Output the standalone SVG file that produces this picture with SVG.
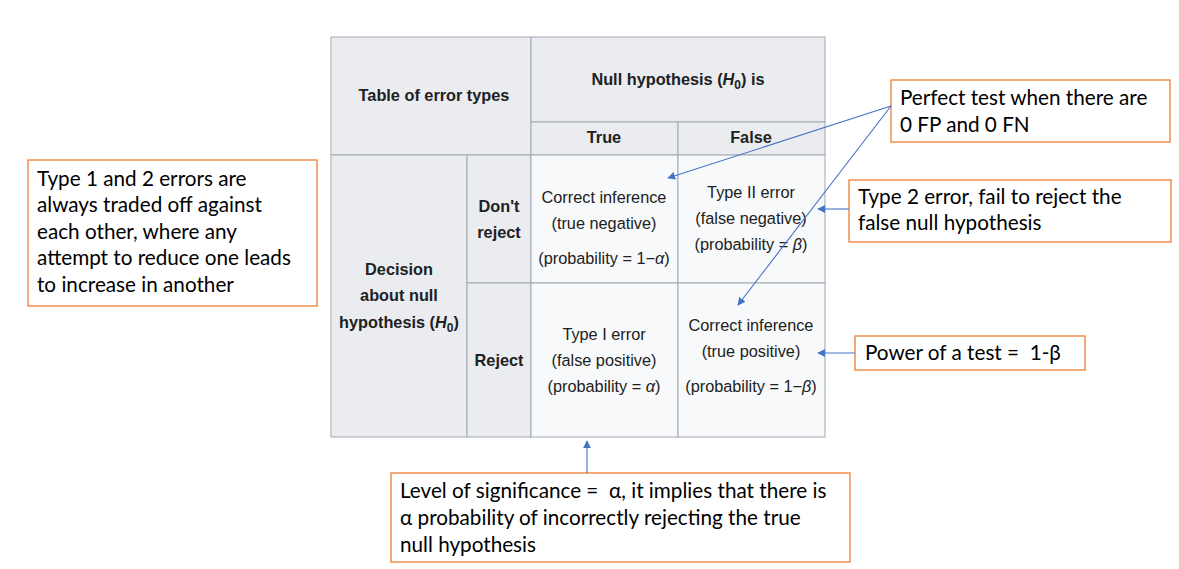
<svg xmlns="http://www.w3.org/2000/svg" width="1179" height="569" viewBox="0 0 1179 569">
<style>
.hd{fill:#eaecf0;stroke:#a2a9b1;stroke-width:1}
.dc{fill:#f8f9fa;stroke:#a2a9b1;stroke-width:1}
.tb{font-family:"Liberation Sans",Arial,sans-serif;font-size:16.3px;fill:#202122;text-anchor:middle}
.b{font-weight:bold}
.box{fill:#ffffff;stroke:#ED7D31;stroke-width:1.3}
.ct{font-family:Lato,"Open Sans",sans-serif;font-size:20.7px;fill:#000000;white-space:pre}
.cn{stroke:#4472C4;stroke-width:1.1;fill:none;marker-end:url(#ah)}
</style>
<defs>
<marker id="ah" viewBox="0 0 10 10" refX="9" refY="5" markerWidth="8" markerHeight="8" markerUnits="userSpaceOnUse" orient="auto">
<path d="M0,0 L10,5 L0,10 z" fill="#4472C4"/>
</marker>
</defs>
<rect width="1179" height="569" fill="#ffffff"/>
<g id="table">
<rect class="hd" x="331" y="37" width="200" height="118"/>
<rect class="hd" x="531" y="37" width="294" height="85"/>
<rect class="hd" x="531" y="122" width="147" height="33"/>
<rect class="hd" x="678" y="122" width="147" height="33"/>
<rect class="hd" x="331" y="155" width="136" height="282"/>
<rect class="hd" x="467" y="155" width="64" height="128"/>
<rect class="hd" x="467" y="283" width="64" height="154"/>
<rect class="dc" x="531" y="155" width="147" height="128"/>
<rect class="dc" x="678" y="155" width="147" height="128"/>
<rect class="dc" x="531" y="283" width="147" height="154"/>
<rect class="dc" x="678" y="283" width="147" height="154"/>
<text class="tb b" x="434" y="101">Table of error types</text>
<text class="tb b" x="678" y="85">Null hypothesis (<tspan font-style="italic">H</tspan><tspan font-size="12" dy="4">0</tspan><tspan dy="-4">) is</tspan></text>
<text class="tb b" x="604" y="143">True</text>
<text class="tb b" x="751" y="143">False</text>
<text class="tb b" x="499" y="212">Don't</text>
<text class="tb b" x="499" y="238">reject</text>
<text class="tb b" x="399" y="275">Decision</text>
<text class="tb b" x="399" y="301">about null</text>
<text class="tb b" x="399" y="328">hypothesis (<tspan font-style="italic">H</tspan><tspan font-size="12" dy="4">0</tspan><tspan dy="-4">)</tspan></text>
<text class="tb b" x="499" y="366">Reject</text>
<text class="tb" x="604" y="203">Correct inference</text>
<text class="tb" x="604" y="229">(true negative)</text>
<text class="tb" x="604" y="264">(probability = 1−<tspan font-style="italic">α</tspan>)</text>
<text class="tb" x="751" y="198">Type II error</text>
<text class="tb" x="751" y="224">(false negative)</text>
<text class="tb" x="751" y="250">(probability = <tspan font-style="italic">β</tspan>)</text>
<text class="tb" x="604" y="340">Type I error</text>
<text class="tb" x="604" y="366">(false positive)</text>
<text class="tb" x="604" y="392">(probability = <tspan font-style="italic">α</tspan>)</text>
<text class="tb" x="751" y="331">Correct inference</text>
<text class="tb" x="751" y="357">(true positive)</text>
<text class="tb" x="751" y="392">(probability = 1−<tspan font-style="italic">β</tspan>)</text>
</g>
<g id="note-tradeoff">
<rect class="box" x="28" y="160" width="289" height="146"/>
<text class="ct" x="37" y="186">Type 1 and 2 errors are</text>
<text class="ct" x="37" y="212">always traded off against</text>
<text class="ct" x="37" y="239">each other, where any</text>
<text class="ct" x="37" y="265">attempt to reduce one leads</text>
<text class="ct" x="37" y="292">to increase in another</text>
</g>
<g id="note-perfect">
<rect class="box" x="891" y="80" width="279" height="62"/>
<text class="ct" x="900" y="105">Perfect test when there are</text>
<text class="ct" x="900" y="132">0 FP and 0 FN</text>
</g>
<g id="note-type2">
<rect class="box" x="849" y="180" width="322" height="62"/>
<text class="ct" x="858" y="204">Type 2 error, fail to reject the</text>
<text class="ct" x="858" y="230">false null hypothesis</text>
</g>
<g id="note-power">
<rect class="box" x="855" y="336" width="230" height="34"/>
<text class="ct" x="865" y="360">Power of a test =  1-β</text>
</g>
<g id="note-significance">
<rect class="box" x="391" y="473" width="459" height="89"/>
<text class="ct" x="400" y="498">Level of significance =  α, it implies that there is</text>
<text class="ct" x="400" y="525">α probability of incorrectly rejecting the true</text>
<text class="ct" x="400" y="552">null hypothesis</text>
</g>
<g id="connectors">
<line class="cn" x1="891" y1="106" x2="668" y2="178"/>
<line class="cn" x1="891" y1="106" x2="738" y2="305"/>
<line class="cn" x1="849" y1="209" x2="818" y2="209"/>
<line class="cn" x1="855" y1="353" x2="818" y2="353"/>
<line class="cn" x1="587" y1="473" x2="587" y2="441"/>
</g>
</svg>
